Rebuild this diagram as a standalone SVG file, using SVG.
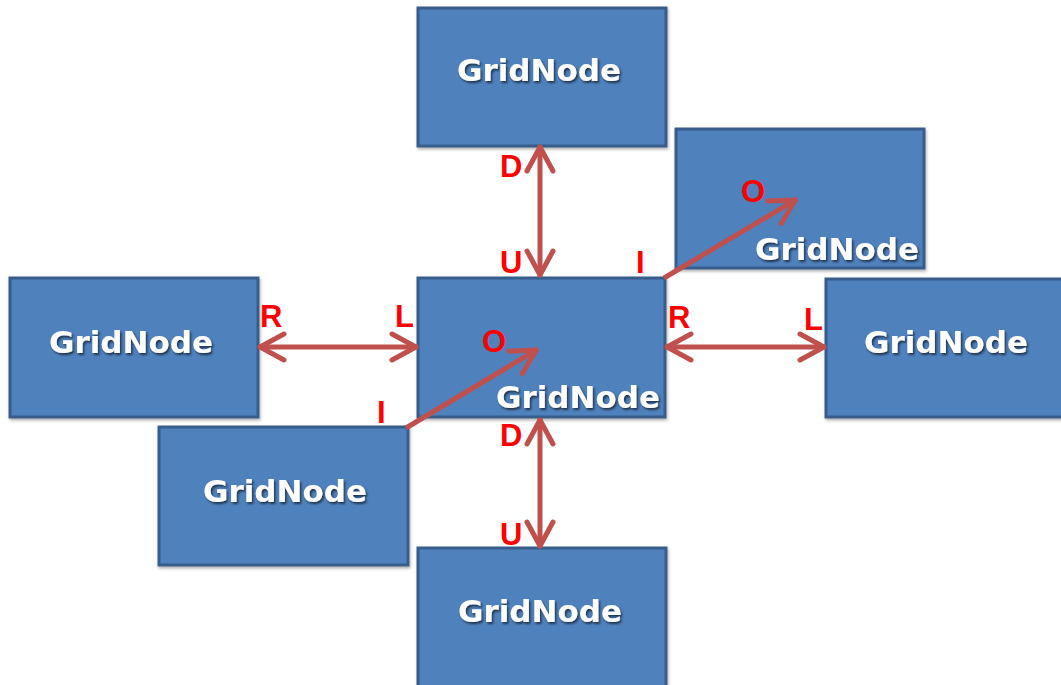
<svg xmlns="http://www.w3.org/2000/svg" width="1061" height="685" viewBox="0 0 1061 685">
<style>
.box{fill:#4F81BD;stroke:#385D8A;stroke-width:3}
.nt{font-family:"DejaVu Sans","Liberation Sans",sans-serif;font-weight:bold;font-size:31px;fill:#fff;text-anchor:middle;filter:url(#ts)}
.lb{font-family:"Liberation Sans",Arial,sans-serif;font-weight:bold;font-size:31px;fill:#FF0000}
.cn{stroke:#C0504D;stroke-width:5;fill:none}
</style>
<defs>
<filter id="ts" x="-10%" y="-30%" width="120%" height="160%">
<feDropShadow dx="1.5" dy="2" stdDeviation="1.2" flood-color="#000" flood-opacity="0.6"/>
</filter>
<filter id="bs" x="-5%" y="-5%" width="115%" height="115%">
<feDropShadow dx="1" dy="2" stdDeviation="1.5" flood-color="#000" flood-opacity="0.3"/>
</filter>
<marker id="ah" viewBox="-32 -16 36 32" refX="0" refY="0" markerWidth="36" markerHeight="32" markerUnits="userSpaceOnUse" orient="auto-start-reverse">
<path d="M -26 -13 L -2 0 L -26 13" fill="none" stroke="#C0504D" stroke-width="5" stroke-linejoin="round" stroke-linecap="round"/>
</marker>
</defs>
<rect width="1061" height="685" fill="#fff"/>
<g id="node-top"><rect class="box" filter="url(#bs)" x="418" y="8" width="248" height="138"/><text class="nt" x="539" y="81">GridNode</text></g>
<g id="node-topright"><rect class="box" filter="url(#bs)" x="676" y="129" width="248" height="139"/><text class="nt" x="837" y="260">GridNode</text></g>
<g id="node-left"><rect class="box" filter="url(#bs)" x="10" y="278" width="248" height="139"/><text class="nt" x="131" y="353">GridNode</text></g>
<g id="node-center"><rect class="box" filter="url(#bs)" x="418" y="278" width="247" height="139"/><text class="nt" x="578" y="408">GridNode</text></g>
<g id="node-right"><rect class="box" filter="url(#bs)" x="826" y="279" width="240" height="138"/><text class="nt" x="946" y="353">GridNode</text></g>
<g id="node-bottomleft"><rect class="box" filter="url(#bs)" x="159" y="427" width="249" height="138"/><text class="nt" x="285" y="502">GridNode</text></g>
<g id="node-bottom"><rect class="box" filter="url(#bs)" x="418" y="548" width="248" height="140"/><text class="nt" x="540" y="622">GridNode</text></g>
<g id="connectors">
<line class="cn" x1="540" y1="145" x2="540" y2="277" marker-start="url(#ah)" marker-end="url(#ah)"/>
<line class="cn" x1="540" y1="418" x2="540" y2="548" marker-start="url(#ah)" marker-end="url(#ah)"/>
<line class="cn" x1="258" y1="347" x2="418" y2="347" marker-start="url(#ah)" marker-end="url(#ah)"/>
<line class="cn" x1="665" y1="347" x2="826" y2="347" marker-start="url(#ah)" marker-end="url(#ah)"/>
<line class="cn" x1="406" y1="428" x2="538" y2="349" marker-end="url(#ah)"/>
<line class="cn" x1="664" y1="278" x2="797" y2="199" marker-end="url(#ah)"/>
</g>
<g id="labels">
<text class="lb" x="500" y="177">D</text>
<text class="lb" x="500" y="273">U</text>
<text class="lb" x="636" y="273">I</text>
<text class="lb" x="260" y="327">R</text>
<text class="lb" x="395" y="327">L</text>
<text class="lb" x="482" y="352">O</text>
<text class="lb" x="668" y="328">R</text>
<text class="lb" x="804" y="330">L</text>
<text class="lb" x="741" y="202">O</text>
<text class="lb" x="377" y="423">I</text>
<text class="lb" x="500" y="446">D</text>
<text class="lb" x="500" y="545">U</text>
</g>
</svg>
